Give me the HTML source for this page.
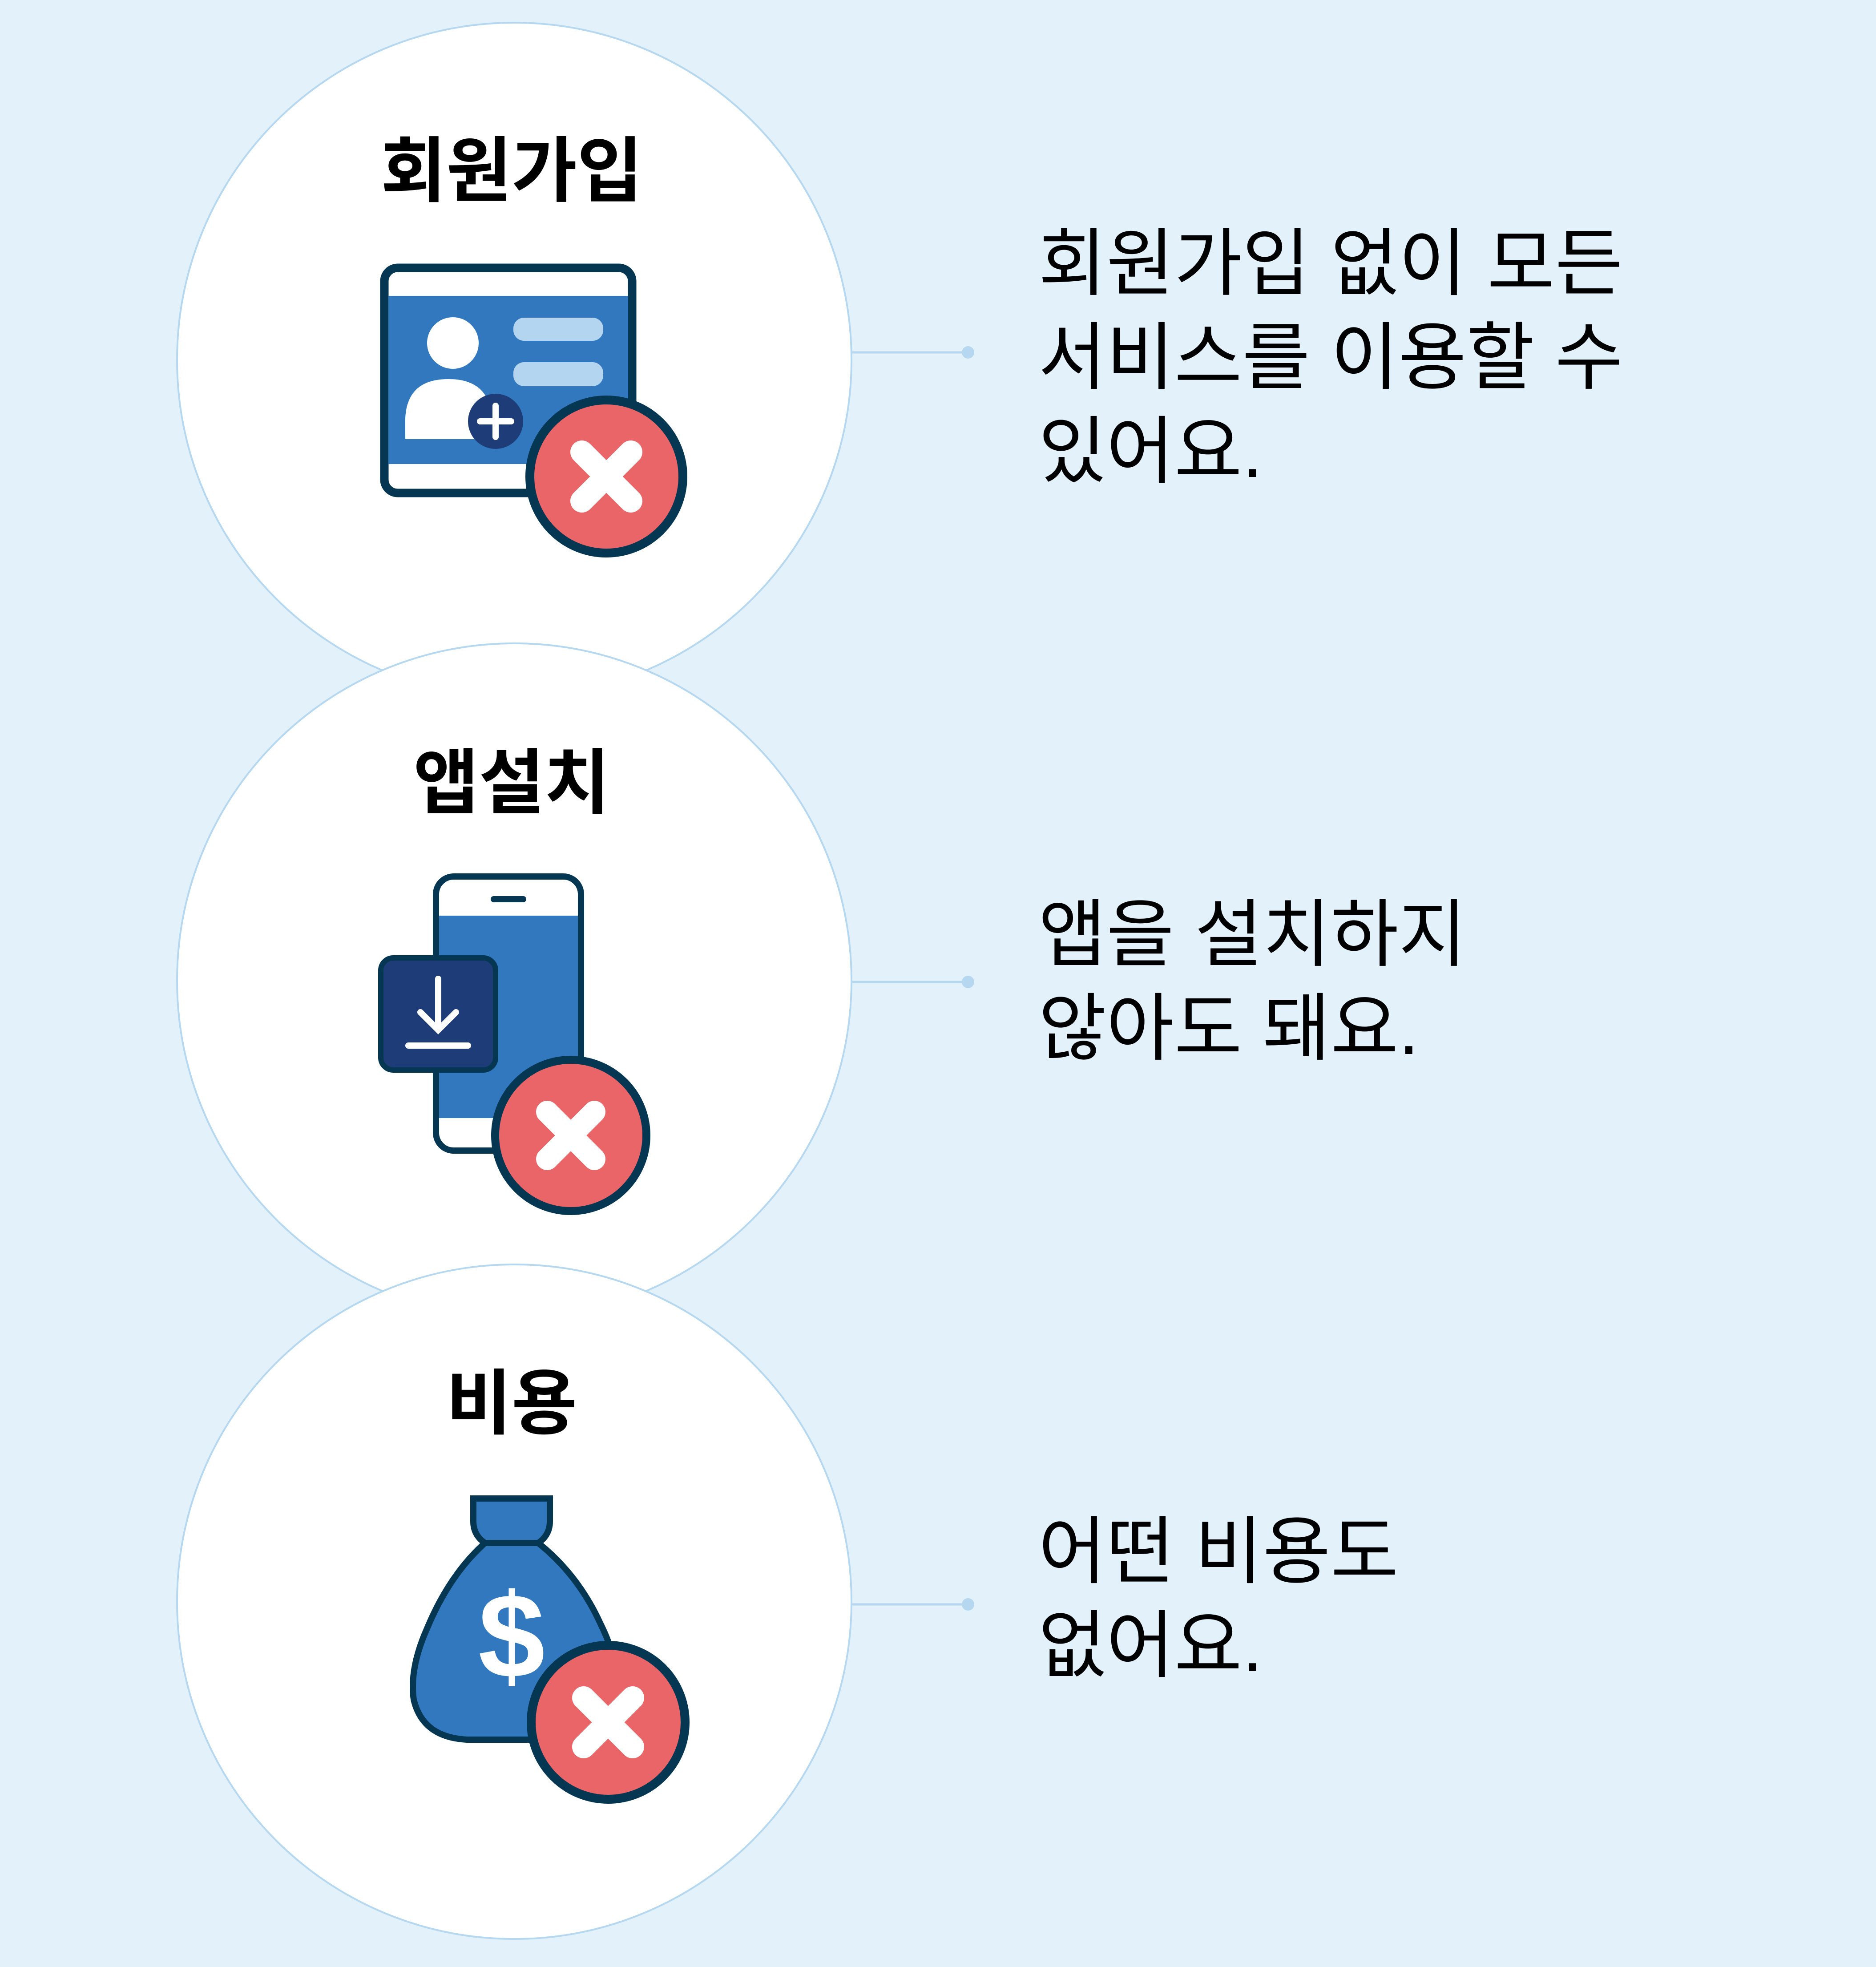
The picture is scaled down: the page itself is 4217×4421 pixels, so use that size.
<!DOCTYPE html>
<html><head><meta charset="utf-8"><style>
html,body{margin:0;padding:0;background:#e3f1fb;}
svg{display:block;}
text{font-family:"Liberation Sans","Noto Sans CJK KR",sans-serif;}
</style></head><body>
<svg width="4217" height="4421" viewBox="0 0 4217 4421" xmlns="http://www.w3.org/2000/svg">
<rect width="4217" height="4421" fill="#e3f1fb"/>
<g fill="#ffffff" stroke="#b5d8f0" stroke-width="4">
<circle cx="1156" cy="809" r="758"/>
<circle cx="1156" cy="2204" r="758"/>
<circle cx="1156" cy="3600" r="758"/>
</g>
<g stroke="#b5d8f0" stroke-width="5">
<line x1="1914" y1="792" x2="2176" y2="792"/>
<line x1="1914" y1="2207" x2="2176" y2="2207"/>
<line x1="1914" y1="3606" x2="2176" y2="3606"/>
</g>
<g fill="#b5d8f0">
<circle cx="2176" cy="792" r="14"/>
<circle cx="2176" cy="2207" r="14"/>
<circle cx="2176" cy="3606" r="14"/>
</g>
<g font-size="160" font-weight="bold" text-anchor="middle" fill="#000">
<text x="1150" y="440">회원가입</text>
<text x="1150" y="1815">앱설치</text>
<text x="1150" y="3210">비용</text>
</g>
<g font-size="166" fill="#000">
<text x="2334" y="650">회원가입 없이 모든</text>
<text x="2334" y="861">서비스를 이용할 수</text>
<text x="2334" y="1072">있어요.</text>
<text x="2334" y="2158">앱을 설치하지</text>
<text x="2334" y="2369">않아도 돼요.</text>
<text x="2334" y="3545">어떤 비용도</text>
<text x="2334" y="3756">없어요.</text>
</g>
<rect x="864" y="602" width="557" height="506" rx="30" fill="#fff" stroke="#053652" stroke-width="19"/>
<rect x="873" y="665" width="539" height="378" fill="#3178be"/>
<circle cx="1018" cy="771" r="58" fill="#fff"/>
<path d="M911 987 L911 940 Q915 852 1008 852 Q1100 852 1106 940 L1106 987 Z" fill="#fff"/>
<rect x="1154" y="714" width="202" height="52" rx="24" fill="#b3d5ef"/>
<rect x="1154" y="814" width="202" height="54" rx="24" fill="#b3d5ef"/>
<circle cx="1114" cy="947" r="62" fill="#1e3d78"/>
<g stroke="#fff" stroke-width="14" stroke-linecap="round"><line x1="1114" y1="912" x2="1114" y2="982"/><line x1="1079" y1="947" x2="1149" y2="947"/></g>
<circle cx="1363" cy="1071" r="172" fill="#e96567" stroke="#053652" stroke-width="20"/>
<g stroke="#fff" stroke-width="52" stroke-linecap="round"><line x1="1308" y1="1016" x2="1418" y2="1126"/><line x1="1418" y1="1016" x2="1308" y2="1126"/></g>
<rect x="980" y="1970" width="326" height="616" rx="40" fill="#fff" stroke="#053652" stroke-width="14"/>
<rect x="987" y="2058" width="312" height="455" fill="#3178be"/>
<rect x="1103" y="2014" width="80" height="14" rx="7" fill="#053652"/>
<rect x="856" y="2153" width="258" height="252" rx="28" fill="#1e3d78" stroke="#053652" stroke-width="12"/>
<g stroke="#fff" stroke-width="14" stroke-linecap="round" fill="none"><line x1="985" y1="2200" x2="985" y2="2310"/><polyline points="945,2275 985,2315 1025,2275"/><line x1="918" y1="2350" x2="1052" y2="2350"/></g>
<circle cx="1283" cy="2552" r="170" fill="#e96567" stroke="#053652" stroke-width="18"/>
<g stroke="#fff" stroke-width="50" stroke-linecap="round"><line x1="1230" y1="2499" x2="1336" y2="2605"/><line x1="1336" y1="2499" x2="1230" y2="2605"/></g>
<path d="M1090 3468 Q1010 3540 960 3660 Q920 3750 930 3820 Q950 3905 1050 3910 L1290 3910 Q1380 3900 1385 3820 Q1395 3740 1350 3650 Q1300 3540 1210 3468 Z" fill="#3178be" stroke="#053652" stroke-width="14"/>
<path d="M1064 3368 L1236 3368 L1236 3420 Q1236 3450 1210 3468 L1090 3468 Q1064 3450 1064 3420 Z" fill="#3178be" stroke="#053652" stroke-width="14"/>
<text x="1150" y="3770" font-size="270" font-weight="bold" fill="#fff" text-anchor="middle">$</text>
<circle cx="1367" cy="3871" r="173" fill="#e96567" stroke="#053652" stroke-width="20"/>
<g stroke="#fff" stroke-width="52" stroke-linecap="round"><line x1="1312" y1="3816" x2="1422" y2="3926"/><line x1="1422" y1="3816" x2="1312" y2="3926"/></g>
</svg>
</body></html>
